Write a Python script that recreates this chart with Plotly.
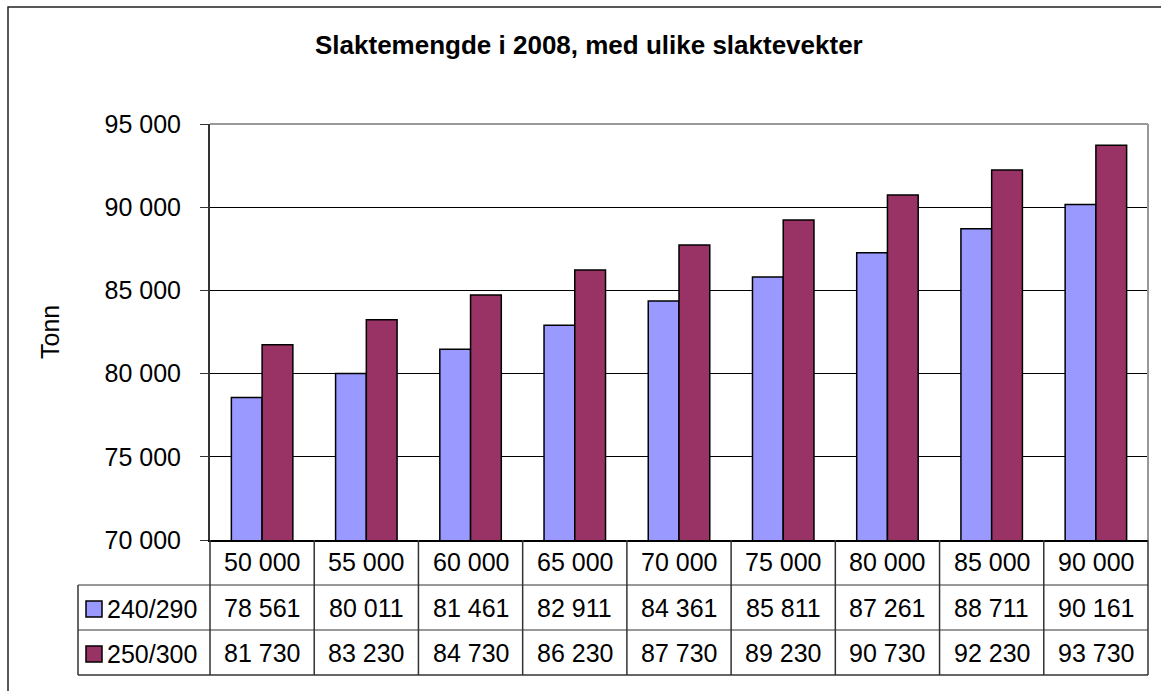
import plotly.graph_objects as go

categories = ["50 000", "55 000", "60 000", "65 000", "70 000", "75 000", "80 000", "85 000", "90 000"]
series_names = ["240/290", "250/300"]
values_240_290 = [78561, 80011, 81461, 82911, 84361, 85811, 87261, 88711, 90161]
values_250_300 = [81730, 83230, 84730, 86230, 87730, 89230, 90730, 92230, 93730]
colors = ["#9999FF", "#993366"]
y_tickvals = [70000, 75000, 80000, 85000, 90000, 95000]
y_ticktext = ["70 000", "75 000", "80 000", "85 000", "90 000", "95 000"]

W, H = 1161, 691
L, R, T, B = 210, 1148, 124, 540
PW, PH = R - L, B - T


def px(p):
    return (p - L) / PW


def py(p):
    return (B - p) / PH


def fmt(v):
    return f"{v:,}".replace(",", " ")


FONT = "Liberation Sans, Arial, sans-serif"
FS = 25

fig = go.Figure()
for name, vals, col in zip(series_names, [values_240_290, values_250_300], colors):
    fig.add_trace(go.Bar(
        x=categories, y=vals, name=name,
        marker=dict(color=col, line=dict(color="black", width=1.5)),
    ))

shapes = []
annotations = []

# outer chart border (extends beyond image on right/bottom)
shapes.append(dict(type="rect", xref="paper", yref="paper",
                   x0=px(8), x1=px(1170), y0=py(7), y1=py(700),
                   line=dict(color="#222", width=1.5), layer="below"))

# plot area border top/right (gray)
shapes.append(dict(type="line", xref="paper", yref="paper", x0=0, x1=1, y0=1, y1=1,
                   line=dict(color="#999", width=2)))
shapes.append(dict(type="line", xref="paper", yref="paper", x0=1, x1=1, y0=0, y1=1,
                   line=dict(color="#999", width=2)))

# data table
tbl_left = 78
n = len(categories)
for yy, w in [(585, 1), (630, 1), (675, 1.5)]:
    shapes.append(dict(type="line", xref="paper", yref="paper", x0=px(tbl_left), x1=1,
                       y0=py(yy), y1=py(yy), line=dict(color="#333", width=w)))
for k in range(n + 1):
    shapes.append(dict(type="line", xref="paper", yref="paper", x0=k / n, x1=k / n,
                       y0=0, y1=py(675), line=dict(color="#333", width=1.5)))
shapes.append(dict(type="line", xref="paper", yref="paper", x0=px(tbl_left), x1=px(tbl_left),
                   y0=py(585), y1=py(675), line=dict(color="#333", width=1.5)))

row_centers = [562, 608, 653]
for k, c in enumerate(categories):
    xc = (k + 0.5) / n
    for rc, txt in zip(row_centers, [c, fmt(values_240_290[k]), fmt(values_250_300[k])]):
        annotations.append(dict(x=xc, y=py(rc), xref="paper", yref="paper",
                                text=txt, showarrow=False,
                                font=dict(size=FS, family=FONT, color="black"),
                                xanchor="center", yanchor="middle"))

# legend keys in table
for name, col, yc in zip(series_names, colors, row_centers[1:]):
    shapes.append(dict(type="rect", xref="paper", yref="paper",
                       x0=px(86), x1=px(102), y0=py(yc - 7), y1=py(yc + 9),
                       fillcolor=col, line=dict(color="black", width=1.5)))
    annotations.append(dict(x=px(105), y=py(yc + 1), xref="paper", yref="paper",
                            text=name, showarrow=False, font=dict(size=FS, family=FONT, color="black"),
                            xanchor="left", yanchor="middle"))

# title
annotations.append(dict(x=px(589), y=py(45), xref="paper", yref="paper",
                        text="<b>Slaktemengde i 2008, med ulike slaktevekter</b>", showarrow=False,
                        font=dict(size=26, family=FONT, color="black"),
                        xanchor="center", yanchor="middle"))
# y axis title
annotations.append(dict(x=px(50), y=py(332), xref="paper", yref="paper",
                        text="Tonn", showarrow=False, textangle=-90,
                        font=dict(size=FS, family=FONT, color="black"),
                        xanchor="center", yanchor="middle"))

fig.update_layout(
    width=W, height=H,
    margin=dict(l=L, r=W - R, t=T, b=H - B, pad=0),
    paper_bgcolor="white", plot_bgcolor="white",
    barmode="group", bargap=0.41, bargroupgap=0,
    showlegend=False,
    font=dict(family=FONT, size=FS, color="black"),
    shapes=shapes, annotations=annotations,
    xaxis=dict(showticklabels=False, showgrid=False, showline=True, linecolor="black",
               linewidth=2, ticks="", fixedrange=True),
    yaxis=dict(range=[70000, 95000], tickvals=y_tickvals, ticktext=y_ticktext,
               showgrid=True, gridcolor="black", gridwidth=1,
               showline=True, linecolor="#333", linewidth=2,
               ticks="outside", ticklen=8, tickcolor="#333", tickwidth=1,
               tickfont=dict(size=FS, family=FONT, color="black"),
               ticklabelstandoff=14, zeroline=False, automargin=False),
)

fig.write_html("out.html", config={"displayModeBar": False},
               post_script="document.body.style.margin='0';document.body.style.overflow='hidden';")
